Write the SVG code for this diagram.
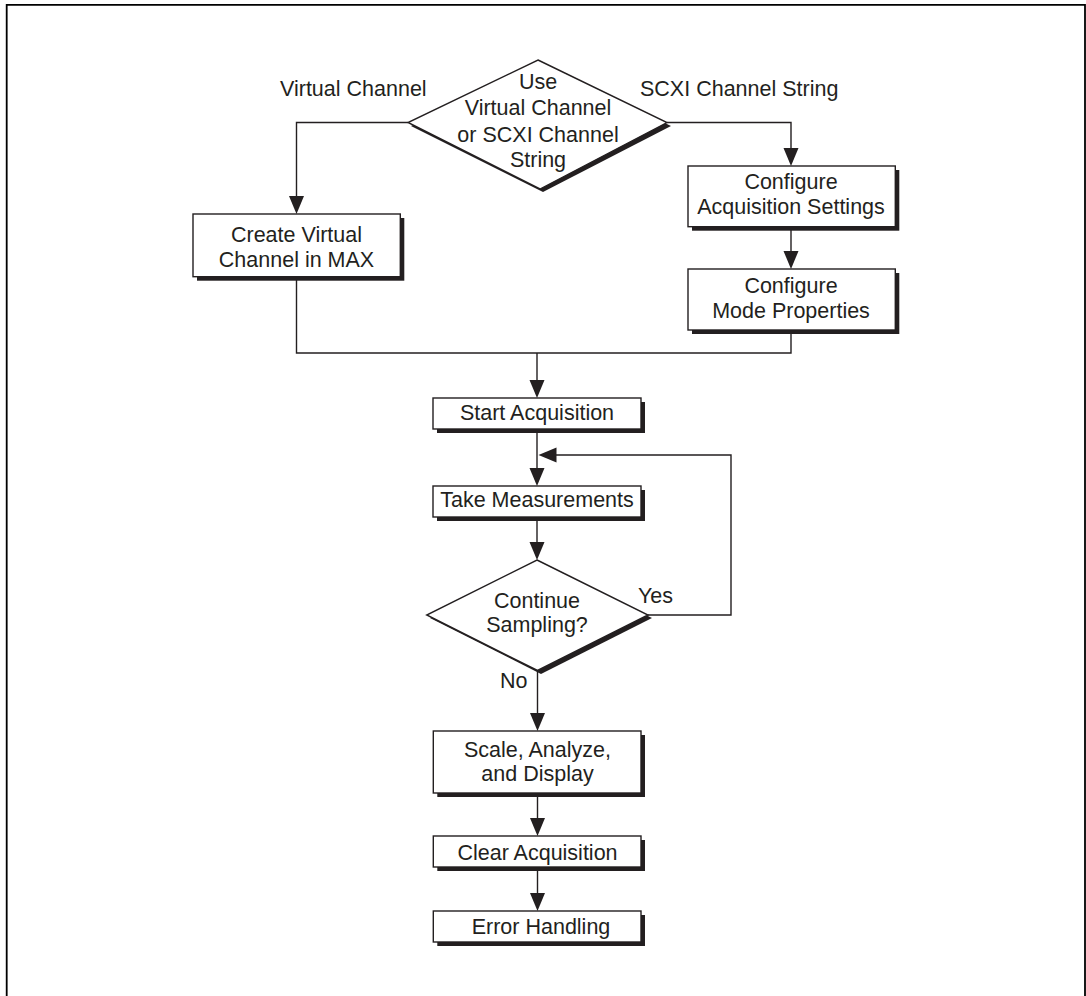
<svg xmlns="http://www.w3.org/2000/svg" width="1086" height="996" viewBox="0 0 1086 996">
<style>
.t{font-family:"Liberation Sans",Arial,Helvetica,sans-serif;font-size:21.5px;fill:#231f20;text-anchor:middle}
.l{font-family:"Liberation Sans",Arial,Helvetica,sans-serif;font-size:21.5px;fill:#231f20}
.box{fill:#fff;stroke:#231f20;stroke-width:1.4}
.sh{fill:#231f20}
.c{fill:none;stroke:#231f20;stroke-width:1.4}
.ah{fill:#231f20}
</style>
<rect width="1086" height="996" fill="#fff"/>
<path d="M6.7,1000 V4.8 H1085 V1000" fill="none" stroke="#000" stroke-width="1.8"/>
<g id="connectors">
<path class="c" d="M408,122.5 H296.5 V200"/>
<path class="ah" d="M289,196 L304,196 L296.5,214 Z"/>
<path class="c" d="M667,122.5 H791 V152"/>
<path class="ah" d="M783.5,148 L798.5,148 L791,166 Z"/>
<path class="c" d="M791,227 V255"/>
<path class="ah" d="M783.5,251 L798.5,251 L791,269 Z"/>
<path class="c" d="M296.5,277 V353 H791 V330"/>
<path class="c" d="M537,353 V385"/>
<path class="ah" d="M529.5,380 L544.5,380 L537,398 Z"/>
<path class="c" d="M537,429 V472"/>
<path class="ah" d="M529.5,468 L544.5,468 L537,486 Z"/>
<path class="c" d="M648,615 H731 V455 H555"/>
<path class="ah" d="M556.5,447.5 L556.5,462.5 L538.5,455 Z"/>
<path class="c" d="M537,517 V547"/>
<path class="ah" d="M529.5,542 L544.5,542 L537,560 Z"/>
<path class="c" d="M537.5,671 V717"/>
<path class="ah" d="M530,713 L545,713 L537.5,731 Z"/>
<path class="c" d="M537.5,793 V822"/>
<path class="ah" d="M530,818 L545,818 L537.5,836 Z"/>
<path class="c" d="M537.5,867 V897"/>
<path class="ah" d="M530,893 L545,893 L537.5,911 Z"/>
<text class="l" x="280" y="96">Virtual Channel</text>
<text class="l" x="640" y="96">SCXI Channel String</text>
<text class="l" x="638" y="603">Yes</text>
<text class="l" x="500" y="688">No</text>
</g>
<g id="decision1">
<polygon class="sh" points="541,63 671,126 543,192 411,126"/>
<polygon class="box" points="538,60 667,122.5 540,189 408,122.5"/>
<text class="t" x="538" y="89">Use</text>
<text class="t" x="538" y="115">Virtual Channel</text>
<text class="t" x="538" y="142">or SCXI Channel</text>
<text class="t" x="538" y="167">String</text>
</g>
<g id="create-virtual">
<rect class="sh" x="197" y="218" width="207.3" height="62.7"/>
<rect class="box" x="193" y="214" width="207.3" height="62.7"/>
<text class="t" x="296.5" y="242">Create Virtual</text>
<text class="t" x="296.5" y="267">Channel in MAX</text>
</g>
<g id="configure-acq">
<rect class="sh" x="692" y="170" width="207.3" height="60.7"/>
<rect class="box" x="688" y="166" width="207.3" height="60.7"/>
<text class="t" x="791" y="189">Configure</text>
<text class="t" x="791" y="214">Acquisition Settings</text>
</g>
<g id="configure-mode">
<rect class="sh" x="692" y="273" width="207.3" height="61"/>
<rect class="box" x="688" y="269" width="207.3" height="61"/>
<text class="t" x="791" y="293">Configure</text>
<text class="t" x="791" y="318">Mode Properties</text>
</g>
<g id="start-acq">
<rect class="sh" x="437" y="402" width="208" height="31"/>
<rect class="box" x="433" y="398" width="208" height="31"/>
<text class="t" x="537" y="420">Start Acquisition</text>
</g>
<g id="take-meas">
<rect class="sh" x="437" y="490" width="208" height="31"/>
<rect class="box" x="433" y="486" width="208" height="31"/>
<text class="t" x="537" y="507">Take Measurements</text>
</g>
<g id="decision2">
<polygon class="sh" points="540,563 652,618 541,674 430,618"/>
<polygon class="box" points="537,560 648,615 537.5,670.5 426.7,615"/>
<text class="t" x="537" y="608">Continue</text>
<text class="t" x="537" y="632">Sampling?</text>
</g>
<g id="scale">
<rect class="sh" x="437.3" y="735" width="207.7" height="62"/>
<rect class="box" x="433.3" y="731" width="207.7" height="62"/>
<text class="t" x="537.5" y="757">Scale, Analyze,</text>
<text class="t" x="537.5" y="781">and Display</text>
</g>
<g id="clear-acq">
<rect class="sh" x="437.3" y="840" width="207.7" height="31"/>
<rect class="box" x="433.3" y="836" width="207.7" height="31"/>
<text class="t" x="537.5" y="860">Clear Acquisition</text>
</g>
<g id="error">
<rect class="sh" x="437.3" y="915" width="207.7" height="31"/>
<rect class="box" x="433.3" y="911" width="207.7" height="31"/>
<text class="t" x="541" y="934">Error Handling</text>
</g>
</svg>
